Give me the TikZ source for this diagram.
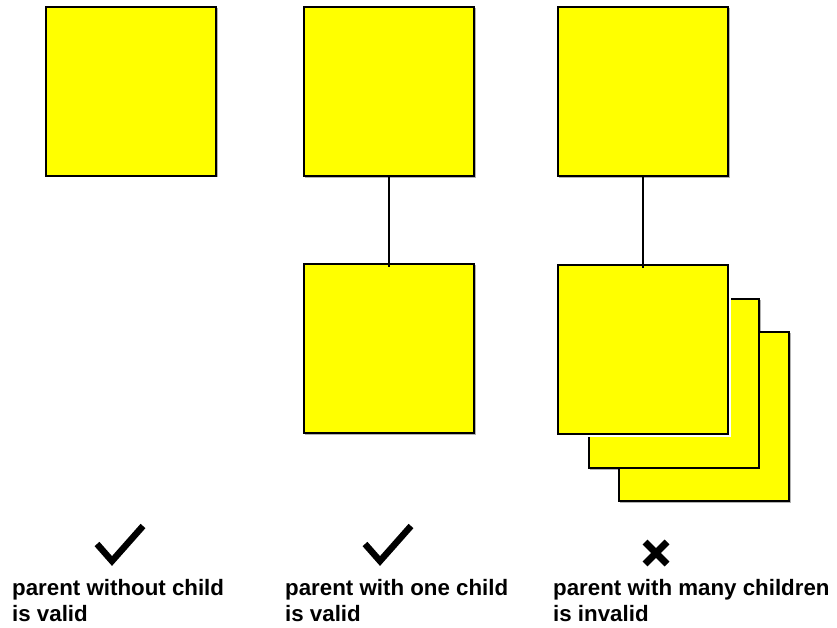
\documentclass[tikz,border=0pt]{standalone}
\usepackage{fontspec}
\setmainfont{Liberation Sans}
\definecolor{boxyellow}{RGB}{255,255,0}
\begin{document}
\begin{tikzpicture}[x=1pt,y=-1pt,
  entity/.style={draw=black, line width=2pt, fill=boxyellow, minimum width=170pt,
    minimum height=169pt, inner sep=0pt, outer sep=0pt},
  shade/.style={fill=black!30},
  link/.style={draw=black, line width=2pt},
  caption/.style={anchor=base west, align=left, inner sep=0pt,
    font=\fontsize{22.3}{26}\selectfont\bfseries},
  tick/.style={line width=6.5pt, miter limit=10, line join=miter},
  cross/.style={line width=7pt}]
\useasboundingbox (0,0) rectangle (837,628);

% soft edge under every box
\foreach \cx/\cy in {131/91.5, 389/92, 389/348.5, 643/92, 704/416.5, 674/383.5}{
  \fill[shade] (\cx-84,\cy-83.5) rectangle (\cx+86.5,\cy+86);
}

% column 1: a parent alone
\node[entity] (p1) at (131,91.5) {};

% column 2: a parent with a single child
\node[entity] (p2) at (389,92) {};
\node[entity] (c2) at (389,348.5) {};
\draw[link] (p2.south) -- ([yshift=-3pt]c2.north);

% column 3: a parent with a stack of children
\node[entity] (p3) at (643,92) {};
\node[entity] (c3c) at (704,416.5) {};
\node[entity] (c3b) at (674,383.5) {};
\fill[white] (643-83,349-82.5) rectangle (643+88,349+88);
\node[entity] (c3a) at (643,349) {};
\draw[link] (p3.south) -- ([yshift=-3pt]c3a.north);

% verdict marks
\coordinate (k1) at (112,561);
\coordinate (k2) at (380,561);
\coordinate (x3) at (656,553);
\draw[tick] ([shift={(-15,-17)}]k1) -- (k1) -- ([shift={(31,-35)}]k1);
\draw[tick] ([shift={(-15,-17)}]k2) -- (k2) -- ([shift={(31,-35)}]k2);
\draw[cross] ([shift={(-11,-11)}]x3) -- ([shift={(11,11)}]x3);
\draw[cross] ([shift={(-11,11)}]x3) -- ([shift={(11,-11)}]x3);

% captions (anchored at the baseline of the second line)
\node[caption] (t1) at (12,621) {parent without child\\is valid};
\node[caption] (t2) at (285,621) {parent with one child\\is valid};
\node[caption] (t3) at (553,621) {parent with many children\\is invalid};
\end{tikzpicture}
\end{document}
